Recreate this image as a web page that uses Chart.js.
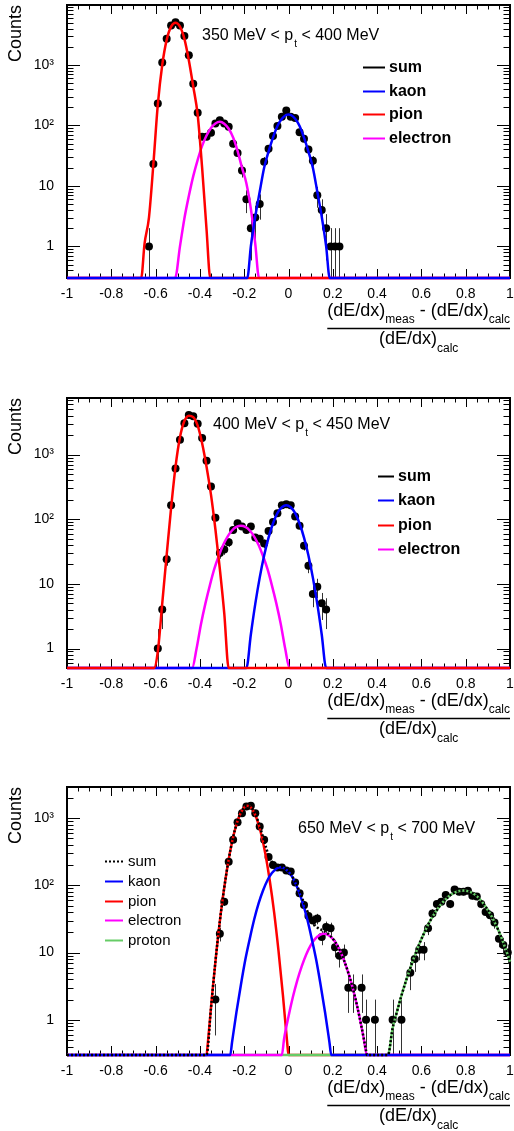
<!DOCTYPE html>
<html>
<head>
<meta charset="utf-8">
<script src="https://cdn.jsdelivr.net/npm/chart.js@4.4.0/dist/chart.umd.min.js"></script>
<style>
  body { margin: 0; background: #fff; }
  canvas { position: absolute; left: 0; }
</style>
</head>
<body>
<canvas id="c1" width="514" height="370" style="top:0px"></canvas>
<canvas id="c2" width="514" height="380" style="top:370px"></canvas>
<canvas id="c3" width="514" height="381" style="top:750px"></canvas>
<script>
// axes
var xTicks = [-1, -0.8, -0.6, -0.4, -0.2, 0, 0.2, 0.4, 0.6, 0.8, 1];
var xTickLabels = ['-1', '-0.8', '-0.6', '-0.4', '-0.2', '0', '0.2', '0.4', '0.6', '0.8', '1'];
var yTicks = [1, 10, 100, 1000];
var yTickLabels = ['1', '10', '10²', '10³'];
var axisNum = ['(dE/dx)', 'meas', ' - (dE/dx)', 'calc'];
var axisDen = ['(dE/dx)', 'calc'];

// panel 1 : 350 MeV < pt < 400 MeV
var ptLabel1 = ['350 MeV < p', 't', ' < 400 MeV'];
var bins1 = [-0.63, -0.61, -0.59, -0.57, -0.55, -0.53, -0.51, -0.49, -0.47, -0.45, -0.43, -0.41, -0.39, -0.37, -0.35,
  -0.33, -0.31, -0.29, -0.27, -0.25, -0.23, -0.21, -0.19, -0.17, -0.15, -0.13, -0.11, -0.09, -0.07, -0.05, -0.03,
  -0.01, 0.01, 0.03, 0.05, 0.07, 0.09, 0.11, 0.13, 0.15, 0.17, 0.19, 0.21, 0.23];
var counts1 = [1, 23, 230, 1100, 2700, 4500, 5100, 4500, 3000, 1440, 490, 162, 65, 65, 76,
  108, 122, 108, 95, 50, 35, 18, 6, 2, 3, 5, 25, 41, 67, 98, 139,
  176, 139, 133, 77, 60, 40, 26, 7, 4, 2, 1, 1, 1];
var pion1X = [-1, -0.665, -0.65, -0.63, -0.61, -0.59, -0.57, -0.55, -0.53, -0.51, -0.49, -0.47, -0.45, -0.43, -0.41, -0.39, -0.37, -0.353, 1];
var pion1Y = [0.3, 0.3, 1.1, 3, 23, 220, 1000, 2600, 4300, 5000, 4300, 2700, 1200, 440, 150, 20, 1.9, 0.3, 0.3];
var elec1X = [-1, -0.512, -0.49, -0.47, -0.45, -0.43, -0.41, -0.39, -0.37, -0.35, -0.33, -0.31, -0.29, -0.27, -0.25, -0.23, -0.21, -0.19, -0.17, -0.15, -0.133, 1];
var elec1Y = [0.3, 0.3, 1.0, 2.9, 6.8, 14.5, 27, 46, 68, 91, 108, 115, 107, 88, 63, 38, 20, 11, 4.2, 1.1, 0.3, 0.3];
var kaon1X = [-1, -0.186, -0.17, -0.15, -0.13, -0.11, -0.09, -0.07, -0.05, -0.03, -0.01, 0, 0.01, 0.03, 0.05, 0.07, 0.09, 0.11, 0.13, 0.15, 0.17, 0.186, 1];
var kaon1Y = [0.3, 0.3, 1.0, 3.1, 8, 20, 37, 63, 98, 129, 150, 152, 150, 129, 98, 63, 37, 20, 8, 3.1, 1.0, 0.3, 0.3];

// panel 2 : 400 MeV < pt < 450 MeV
var ptLabel2 = ['400 MeV < p', 't', ' < 450 MeV'];
var bins2 = [-0.59, -0.57, -0.55, -0.53, -0.51, -0.49, -0.47, -0.45, -0.43, -0.41, -0.39, -0.37, -0.35, -0.33, -0.31,
  -0.29, -0.27, -0.25, -0.23, -0.21, -0.19, -0.17, -0.15, -0.13, -0.11, -0.09, -0.07, -0.05, -0.03, -0.01,
  0.01, 0.03, 0.05, 0.07, 0.09, 0.11, 0.13, 0.15, 0.17];
var counts2 = [1, 4, 24, 165, 611, 1700, 3040, 4100, 3900, 3000, 1800, 800, 322, 105, 30,
  34, 44, 68, 87, 77, 68, 77, 52, 50, 42, 66, 91, 124, 165, 170,
  165, 110, 79, 39, 19, 7, 9, 5, 4];
var pion2X = [-1, -0.607, -0.59, -0.57, -0.55, -0.53, -0.51, -0.49, -0.47, -0.45, -0.43, -0.41, -0.39, -0.37, -0.35, -0.33, -0.31, -0.29, -0.27, 1];
var pion2Y = [0.5, 0.5, 0.9, 5, 28, 150, 650, 1850, 3300, 4000, 3800, 2800, 1500, 650, 240, 70, 17, 3.5, 0.5, 0.5];
var elec2X = [-1, -0.435, -0.415, -0.395, -0.375, -0.355, -0.335, -0.315, -0.295, -0.275, -0.255, -0.235, -0.215,
  -0.195, -0.175, -0.155, -0.135, -0.115, -0.095, -0.075, -0.055, -0.035, -0.015, 0.005, 1];
var elec2Y = [0.5, 0.5, 1.0, 2.4, 5, 9.5, 17, 27, 40, 54, 67, 76, 79,
  76, 67, 54, 40, 27, 17, 9.5, 5, 2.4, 1.0, 0.5, 0.5];
var kaon2X = [-1, -0.19, -0.17, -0.15, -0.13, -0.11, -0.09, -0.07, -0.05, -0.03, -0.01, 0.01, 0.03, 0.05, 0.07, 0.09, 0.11, 0.13, 0.15, 0.17, 1];
var kaon2Y = [0.5, 0.5, 1.65, 4.9, 12.5, 27.5, 52, 86, 124, 153, 165, 153, 124, 86, 52, 27.5, 12.5, 4.9, 1.65, 0.5, 0.5];

// panel 3 : 650 MeV < pt < 700 MeV
var ptLabel3 = ['650 MeV < p', 't', ' < 700 MeV'];
var bins3 = [-0.33, -0.31, -0.29, -0.27, -0.25, -0.23, -0.21, -0.19, -0.17, -0.15, -0.13, -0.11, -0.09, -0.07, -0.05,
  -0.03, -0.01, 0.01, 0.03, 0.05, 0.07, 0.09, 0.11, 0.13, 0.15, 0.17, 0.19, 0.21, 0.23, 0.25,
  0.27, 0.29, 0.33, 0.35, 0.39, 0.47, 0.51,
  0.55, 0.57, 0.59, 0.61, 0.63, 0.65, 0.67, 0.69, 0.71, 0.73, 0.75, 0.77, 0.79, 0.81, 0.83, 0.85, 0.87, 0.89,
  0.91, 0.93, 0.95, 0.97, 0.99];
var counts3 = [2, 19, 57, 225, 475, 865, 1180, 1490, 1520, 1180, 750, 475, 265, 200, 185,
  185, 166, 160, 110, 76, 51, 35, 30, 32, 17, 24, 23, 12, 9, 10,
  3, 3, 3, 1, 1, 1, 1,
  5, 8, 11, 11, 23, 38, 53, 57, 72, 53, 87, 80, 80, 83, 70, 68, 53, 40,
  36, 28, 16, 13, 10];
var sum3X = [-1, -0.37, -0.35, -0.33, -0.31, -0.29, -0.27, -0.25, -0.23, -0.21, -0.19, -0.17, -0.15, -0.13, -0.11,
  -0.09, -0.07, -0.05, -0.03, -0.01, 0.01, 0.03, 0.05, 0.07, 0.09, 0.11, 0.13, 0.15, 0.17, 0.19,
  0.21, 0.23, 0.25, 0.27, 0.29, 0.31, 0.33, 0.35, 0.354, 0.449,
  0.47, 0.49, 0.51, 0.53, 0.55, 0.57, 0.59, 0.61, 0.63, 0.65, 0.67, 0.69, 0.71, 0.73, 0.75, 0.77, 0.79,
  0.81, 0.83, 0.85, 0.87, 0.89, 0.91, 0.93, 0.95, 0.97, 0.99, 1];
var sum3Y = [0.3, 0.3, 1.5, 7.4, 29, 93, 243, 520, 908, 1294, 1512, 1448, 1145, 764, 456,
  282, 213, 196, 190, 173, 147, 113, 81, 55, 38, 28, 23.6, 21.6, 20, 17.6,
  14.5, 11.1, 7.8, 5, 3, 1.6, 0.78, 0.35, 0.3, 0.3,
  0.75, 1.33, 2.3, 3.75, 5.9, 9, 13.3, 18.8, 26, 34, 43, 53, 62, 71, 78, 82.5, 84,
  82, 77, 69, 59, 48, 38, 28.5, 20.6, 14, 9.2, 7.3];
var kaon3X = [-1, -0.263, -0.255, -0.235, -0.215, -0.195, -0.175, -0.155, -0.135, -0.115, -0.095, -0.075, -0.055, -0.035,
  -0.015, 0.005, 0.025, 0.045, 0.065, 0.085, 0.105, 0.125, 0.145, 0.165, 0.185, 0.193, 1];
var kaon3Y = [0.3, 0.3, 0.46, 1.3, 3.3, 7.8, 16, 31, 54, 84, 119, 152, 177, 186,
  177, 152, 119, 84, 54, 31, 16, 7.8, 3.3, 1.3, 0.46, 0.3, 0.3];
var pion3X = [-1, -0.37, -0.365, -0.345, -0.325, -0.305, -0.285, -0.265, -0.245, -0.225, -0.205, -0.185,
  -0.165, -0.145, -0.125, -0.105, -0.085, -0.065, -0.045, -0.025, -0.005, 0, 1];
var pion3Y = [0.3, 0.3, 0.42, 2.3, 10.5, 40, 120, 300, 610, 1010, 1375, 1520,
  1375, 1010, 610, 300, 120, 40, 10.5, 2.3, 0.42, 0.3, 0.3];
var elec3X = [-1, -0.03, -0.02, 0, 0.02, 0.04, 0.06, 0.08, 0.1, 0.12, 0.14, 0.16, 0.18, 0.2, 0.22, 0.24, 0.26, 0.28, 0.3, 0.32, 0.34, 0.354, 1];
var elec3Y = [0.3, 0.3, 0.52, 1.12, 2.2, 3.9, 6.3, 9.4, 12.8, 16, 18.2, 19, 18.2, 16, 12.8, 9.4, 6.3, 3.9, 2.2, 1.12, 0.52, 0.3, 0.3];
var prot3X = [-1, 0.449, 0.47, 0.49, 0.51, 0.53, 0.55, 0.57, 0.59, 0.61, 0.63, 0.65, 0.67, 0.69, 0.71, 0.73, 0.75, 0.77, 0.79,
  0.81, 0.83, 0.85, 0.87, 0.89, 0.91, 0.93, 0.95, 0.97, 0.99, 1];
var prot3Y = [0.3, 0.3, 0.75, 1.33, 2.3, 3.75, 5.9, 9, 13.3, 18.8, 26, 34, 43, 53, 62, 71, 78, 82.5, 84,
  82, 77, 69, 59, 48, 38, 28.5, 20.6, 14, 9.2, 7.3];

var FONT = '"Liberation Sans", Arial, sans-serif';
Chart.defaults.font.family = FONT;
Chart.defaults.color = '#000';

function pts(xs, ys) {
  return xs.map(function (x, i) { return { x: x, y: ys[i] }; });
}

function curve(label, color, xs, ys, order, dash) {
  return {
    label: label, data: pts(xs, ys), showLine: true, borderColor: color, backgroundColor: color,
    borderWidth: 2.5, pointRadius: 0, cubicInterpolationMode: 'monotone', order: order,
    borderDash: dash || [], clip: 4
  };
}

function points(xs, ys) {
  return {
    label: 'data', isData: true, data: pts(xs, ys), showLine: false, order: 10, clip: 4,
    pointRadius: 4, pointBackgroundColor: '#000', pointBorderWidth: 0
  };
}

// frame, ROOT style inside ticks and error bars
var rootFrame = {
  id: 'rootFrame',
  beforeDatasetsDraw: function (chart) {
    var ctx = chart.ctx, a = chart.chartArea, x = chart.scales.x, y = chart.scales.y;
    ctx.save();
    ctx.strokeStyle = '#000';
    ctx.lineWidth = 1;
    ctx.beginPath();
    for (var i = 0; i <= 40; i++) {
      var px = Math.round(x.getPixelForValue(-1 + i * 0.05)) + 0.5;
      var len = i % 4 === 0 ? 9 : 4.5;
      ctx.moveTo(px, a.bottom); ctx.lineTo(px, a.bottom - len);
      ctx.moveTo(px, a.top); ctx.lineTo(px, a.top + len);
    }
    for (var d = -1; d <= 4; d++) {
      for (var m = 1; m <= 9; m++) {
        var v = m * Math.pow(10, d);
        if (v < y.min || v > y.max) continue;
        var py = Math.round(y.getPixelForValue(v)) + 0.5;
        var l = m === 1 ? 13 : 6.5;
        ctx.moveTo(a.left, py); ctx.lineTo(a.left + l, py);
        ctx.moveTo(a.right, py); ctx.lineTo(a.right - l, py);
      }
    }
    ctx.stroke();

    // error bars (sqrt N)
    ctx.strokeStyle = '#333';
    ctx.beginPath();
    chart.data.datasets.forEach(function (ds) {
      if (!ds.isData) return;
      ds.data.forEach(function (p) {
        var e = Math.sqrt(p.y);
        var lo = Math.max(p.y - e, y.min);
        var top = Math.max(y.getPixelForValue(p.y + e), a.top);
        var bot = Math.min(y.getPixelForValue(lo), a.bottom);
        var px = Math.round(x.getPixelForValue(p.x)) + 0.5;
        ctx.moveTo(px, top); ctx.lineTo(px, bot);
      });
    });
    ctx.stroke();

    ctx.lineWidth = 2;
    ctx.strokeStyle = '#000';
    ctx.strokeRect(a.left, a.top, a.width, a.height);
    ctx.restore();
  }
};

// pt range text with subscript
var ptText = {
  id: 'ptText',
  afterDraw: function (chart, args, o) {
    var ctx = chart.ctx, x = o.x;
    ctx.save();
    ctx.fillStyle = '#000';
    ctx.textBaseline = 'alphabetic';
    ctx.font = '16px ' + FONT;
    ctx.fillText(o.parts[0], x, o.y);
    x += ctx.measureText(o.parts[0]).width + 1;
    ctx.font = '10px ' + FONT;
    ctx.fillText(o.parts[1], x, o.y + 7);
    x += ctx.measureText(o.parts[1]).width;
    ctx.font = '16px ' + FONT;
    ctx.fillText(o.parts[2], x, o.y);
    ctx.restore();
  }
};

// legend inside the frame
var rootLegend = {
  id: 'rootLegend',
  afterDraw: function (chart, args, o) {
    var ctx = chart.ctx, row = 0;
    ctx.save();
    ctx.font = (o.bold ? 'bold ' : '') + o.size + 'px ' + FONT;
    ctx.textBaseline = 'middle';
    chart.data.datasets.forEach(function (ds) {
      if (ds.isData) return;
      var y = Math.round(o.y + row * o.gap) + 0.5;
      ctx.strokeStyle = ds.borderColor;
      ctx.lineWidth = 2;
      ctx.setLineDash(ds.borderDash || []);
      ctx.beginPath(); ctx.moveTo(o.x, y); ctx.lineTo(o.x + o.len, y); ctx.stroke();
      ctx.setLineDash([]);
      ctx.fillStyle = '#000';
      ctx.fillText(ds.label, o.x + o.len + o.pad, y);
      row++;
    });
    ctx.restore();
  }
};

// x axis title as a fraction
var fracTitle = {
  id: 'fracTitle',
  afterDraw: function (chart) {
    var ctx = chart.ctx, a = chart.chartArea;
    var big = '18px ' + FONT, small = '12px ' + FONT;
    var parts = [[axisNum[0], big, 0], [axisNum[1], small, 7], [axisNum[2], big, 0], [axisNum[3], small, 7]];
    ctx.save();
    ctx.fillStyle = '#000';
    ctx.textBaseline = 'alphabetic';
    var w = 0;
    parts.forEach(function (p) { ctx.font = p[1]; w += ctx.measureText(p[0]).width; });
    var x = a.right - w, x0 = x, yb = a.bottom + 38;
    parts.forEach(function (p) { ctx.font = p[1]; ctx.fillText(p[0], x, yb + p[2]); x += ctx.measureText(p[0]).width; });
    var ly = a.bottom + 50.5;
    ctx.strokeStyle = '#000';
    ctx.lineWidth = 1.5;
    ctx.beginPath(); ctx.moveTo(x0, ly); ctx.lineTo(a.right, ly); ctx.stroke();
    ctx.font = big;
    var w1 = ctx.measureText(axisDen[0]).width;
    ctx.font = small;
    var w2 = ctx.measureText(axisDen[1]).width;
    var dx = (x0 + a.right) / 2 - (w1 + w2) / 2, db = a.bottom + 66;
    ctx.font = big; ctx.fillText(axisDen[0], dx, db);
    ctx.font = small; ctx.fillText(axisDen[1], dx + w1, db + 8);
    ctx.restore();
  }
};

function makePanel(id, o) {
  var cv = document.getElementById(id);
  return new Chart(cv, {
    type: 'scatter',
    data: { datasets: o.datasets },
    options: {
      responsive: false,
      animation: false,
      events: [],
      layout: { padding: { left: 0, right: 2, top: o.top, bottom: 0 } },
      plugins: {
        legend: { display: false },
        tooltip: { enabled: false },
        ptText: o.ptText,
        rootLegend: o.legend
      },
      scales: {
        x: {
          type: 'linear', min: -1, max: 1,
          grid: { display: false, drawTicks: false },
          border: { display: false },
          afterBuildTicks: function (s) { s.ticks = xTicks.map(function (v) { return { value: v }; }); },
          afterFit: function (s) { s.height = cv.height - o.bottom; s.paddingLeft = 0; s.paddingRight = 0; },
          ticks: { autoSkip: false, maxRotation: 0, padding: 8, font: { size: 14 },
            callback: function (v, i) { return xTickLabels[i]; } }
        },
        y: {
          type: 'logarithmic', min: o.ymin, max: o.ymax,
          grid: { display: false, drawTicks: false },
          border: { display: false },
          afterBuildTicks: function (s) { s.ticks = yTicks.map(function (v) { return { value: v }; }); },
          afterFit: function (s) { s.width = 67; s.paddingTop = 0; s.paddingBottom = 0; },
          title: { display: true, text: 'Counts', align: 'end', font: { size: 18 }, padding: { top: 5, bottom: 0 } },
          ticks: { autoSkip: false, padding: 13, font: { size: 14 },
            callback: function (v, i) { return yTickLabels[i]; } }
        }
      }
    },
    plugins: [rootFrame, ptText, rootLegend, fracTitle]
  });
}

makePanel('c1', {
  top: 5, bottom: 278, ymin: 0.3, ymax: 9800,
  ptText: { x: 202, y: 40, parts: ptLabel1 },
  legend: { x: 363, y: 67, gap: 23.7, len: 22, pad: 4, size: 16, bold: true },
  datasets: [
    points(bins1, counts1),
    curve('sum', '#000', [], [], 5),
    curve('kaon', '#0000ff', kaon1X, kaon1Y, 2),
    curve('pion', '#ff0000', pion1X, pion1Y, 3),
    curve('electron', '#ff00ff', elec1X, elec1Y, 4)
  ]
});

makePanel('c2', {
  top: 28, bottom: 298, ymin: 0.5, ymax: 7500,
  ptText: { x: 213, y: 59, parts: ptLabel2 },
  legend: { x: 378, y: 106, gap: 24.3, len: 16, pad: 4, size: 16, bold: true },
  datasets: [
    points(bins2, counts2),
    curve('sum', '#000', [], [], 5),
    curve('kaon', '#0000ff', kaon2X, kaon2Y, 3),
    curve('pion', '#ff0000', pion2X, pion2Y, 2),
    curve('electron', '#ff00ff', elec2X, elec2Y, 4)
  ]
});

makePanel('c3', {
  top: 37, bottom: 305, ymin: 0.3, ymax: 2900,
  ptText: { x: 298, y: 83, parts: ptLabel3 },
  legend: { x: 105, y: 111, gap: 19.8, len: 18, pad: 5, size: 15, bold: false },
  datasets: [
    points(bins3, counts3),
    curve('sum', '#000', sum3X, sum3Y, 1, [2, 2]),
    curve('kaon', '#0000ff', kaon3X, kaon3Y, 2),
    curve('pion', '#ff0000', pion3X, pion3Y, 5),
    curve('electron', '#ff00ff', elec3X, elec3Y, 3),
    curve('proton', '#66cc66', prot3X, prot3Y, 4)
  ]
});
</script>
</body>
</html>
